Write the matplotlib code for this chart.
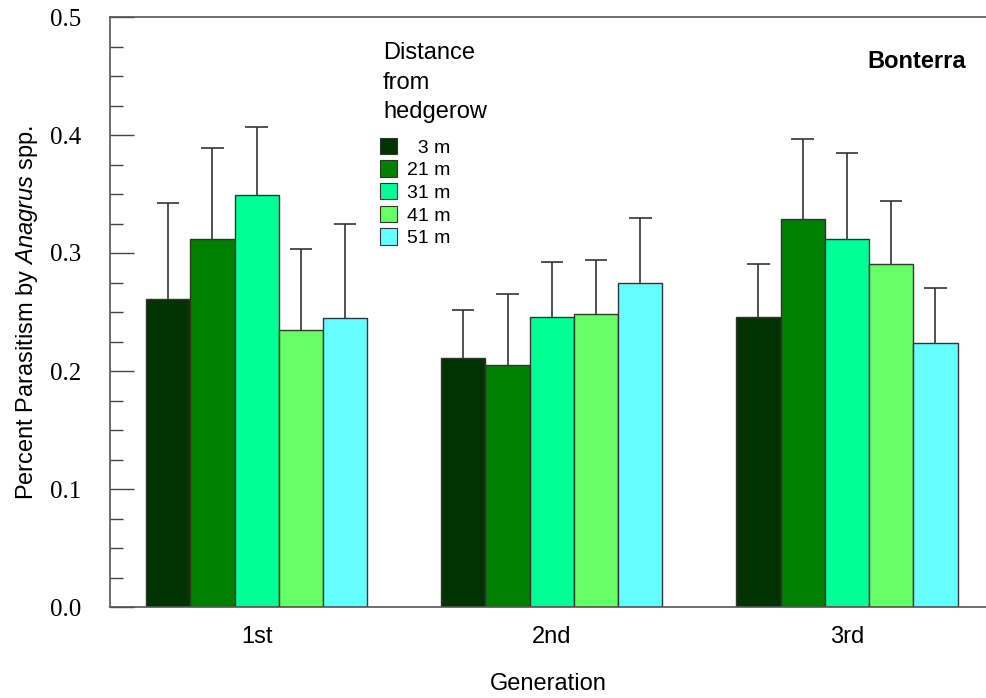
import numpy as np
import matplotlib
matplotlib.use("Agg")
import matplotlib.pyplot as plt
from matplotlib.patches import Patch
from matplotlib.ticker import MultipleLocator

plt.rcParams['font.family'] = ['Liberation Sans', 'DejaVu Sans']
plt.rcParams['mathtext.fontset'] = 'custom'
plt.rcParams['mathtext.it'] = 'Liberation Sans:italic'
plt.rcParams['mathtext.rm'] = 'Liberation Sans'

# --- data: mean parasitism and upper error bar tip per distance ---
generations = ['1st', '2nd', '3rd']
distances = ['  3 m', '21 m', '31 m', '41 m', '51 m']
means = {
    '3 m':  [0.261, 0.211, 0.246],
    '21 m': [0.312, 0.205, 0.329],
    '31 m': [0.349, 0.246, 0.312],
    '41 m': [0.235, 0.248, 0.291],
    '51 m': [0.245, 0.275, 0.224],
}
err_tops = {
    '3 m':  [0.342, 0.252, 0.291],
    '21 m': [0.389, 0.265, 0.397],
    '31 m': [0.407, 0.292, 0.385],
    '41 m': [0.303, 0.294, 0.344],
    '51 m': [0.325, 0.330, 0.270],
}
colors = ['#003300', '#008000', '#00FF96', '#66FF66', '#66FFFF']

fig = plt.figure(figsize=(9.86, 6.98), dpi=100)
ax = fig.add_axes([110/986, 91/698, 1 - 110/986, 590/698])

x = np.arange(len(generations))
width = 0.15
cap = 0.038
for i, (key, col) in enumerate(zip(means.keys(), colors)):
    pos = x + (i - 2) * width
    m = np.array(means[key])
    top = np.array(err_tops[key])
    ax.bar(pos, m, width, color=col, edgecolor='#333333', linewidth=1.0, zorder=2)
    # upper half of the error bar only
    ax.vlines(pos, m, top, color='#333333', linewidth=1.2, zorder=1)
    ax.hlines(top, pos - cap, pos + cap, color='#333333', linewidth=1.2, zorder=1)

ax.set_xlim(-0.497, 2 + 139/295)
ax.set_ylim(0, 0.5)
ax.yaxis.set_minor_locator(MultipleLocator(0.025))
ax.set_yticks(np.arange(0, 0.51, 0.1))
ax.set_yticklabels([f'{v:.1f}' for v in np.arange(0, 0.51, 0.1)],
                   family='Liberation Serif', fontsize=18)
ax.tick_params(axis='y', which='major', direction='in', length=17, width=1,
               color='#444444', pad=21)
ax.tick_params(axis='y', which='minor', direction='in', length=9, width=1,
               color='#444444')
ax.set_xticks(x)
ax.set_xticklabels(generations, fontsize=17)
ax.tick_params(axis='x', length=0, pad=14)

for s in ['left', 'bottom', 'top']:
    ax.spines[s].set_color('#555555')
    ax.spines[s].set_linewidth(1.2)
ax.spines['right'].set_visible(False)

ax.set_xlabel('Generation', fontsize=17, labelpad=18)
ax.set_ylabel('Percent Parasitism by $\\it{Anagrus}$ spp.', fontsize=17, labelpad=7)

fig.text(917/986, 1 - 62/698, 'Bonterra', fontsize=17,
         fontweight='bold', ha='center', va='center')

# legend heading set apart from the entries
fig.text(383/986, 1 - 42/698, 'Distance\nfrom\nhedgerow', fontsize=17,
         ha='left', va='top', linespacing=1.45)

handles = [Patch(facecolor=c, edgecolor='#333333', linewidth=0.8) for c in colors]
leg = ax.legend(handles, distances, loc='upper left',
                bbox_to_anchor=(372/986, 1 - 130/698),
                bbox_transform=fig.transFigure, frameon=False, fontsize=14,
                handlelength=0.9, handleheight=0.9,
                handletextpad=0.5, labelspacing=0.2, borderaxespad=0)

fig.savefig('out.png', dpi=100)
